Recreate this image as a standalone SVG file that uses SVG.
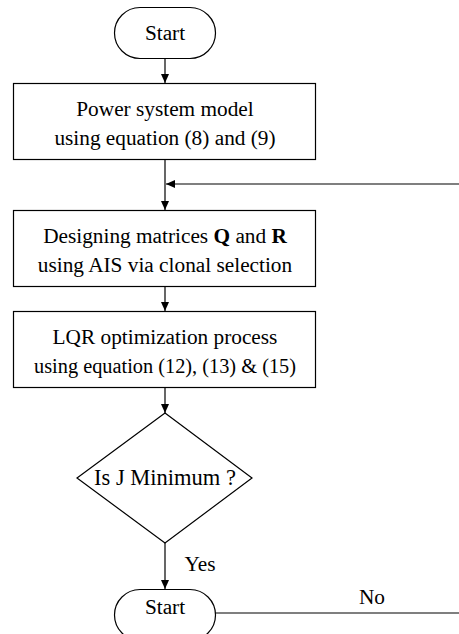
<svg xmlns="http://www.w3.org/2000/svg" width="459" height="634" viewBox="0 0 459 634">
<style>
.n{fill:#fff;stroke:#000;stroke-width:1.2}
.t{font-family:"Liberation Serif","Times New Roman",serif;font-size:21.3px;fill:#000;text-anchor:middle}
.c{fill:none;stroke:#000;stroke-width:1.2}
</style>
<defs>
<marker id="a" markerWidth="9" markerHeight="8" refX="9" refY="4" orient="auto" markerUnits="userSpaceOnUse">
<path d="M0,0 L9,4 L0,8 Z" fill="#000"/>
</marker>
</defs>
<rect width="459" height="634" fill="#fff"/>
<g id="connectors">
<line class="c" x1="165" y1="58" x2="165" y2="83" marker-end="url(#a)"/>
<line class="c" x1="165" y1="159" x2="165" y2="210" marker-end="url(#a)"/>
<line class="c" x1="459" y1="184" x2="166" y2="184" marker-end="url(#a)"/>
<line class="c" x1="165" y1="286" x2="165" y2="311" marker-end="url(#a)"/>
<line class="c" x1="165" y1="387" x2="165" y2="413" marker-end="url(#a)"/>
<line class="c" x1="165" y1="543" x2="165" y2="589" marker-end="url(#a)"/>
<line class="c" x1="215" y1="613" x2="459" y2="613"/>
<text class="t" x="200" y="571">Yes</text>
<text class="t" x="372" y="604">No</text>
</g>
<g id="start">
<rect class="n" x="114.5" y="7.5" width="101" height="51" rx="25.5"/>
<text class="t" x="165" y="40">Start</text>
</g>
<g id="model">
<rect class="n" x="13.5" y="83.5" width="302" height="76"/>
<text class="t" x="165" y="116">Power system model</text>
<text class="t" x="165" y="145">using equation (8) and (9)</text>
</g>
<g id="design">
<rect class="n" x="13.5" y="210.5" width="302" height="76"/>
<text class="t" x="165" y="243">Designing matrices <tspan font-weight="bold">Q</tspan> and <tspan font-weight="bold">R</tspan></text>
<text class="t" x="165" y="272">using AIS via clonal selection</text>
</g>
<g id="lqr">
<rect class="n" x="13.5" y="311.5" width="302" height="76"/>
<text class="t" x="165" y="344">LQR optimization process</text>
<text class="t" x="165" y="373" textLength="262" lengthAdjust="spacingAndGlyphs">using equation (12), (13) &amp; (15)</text>
</g>
<g id="decision">
<polygon class="n" points="165,413 252,478 165,543 77,478"/>
<text class="t" x="165" y="485" style="font-size:22.5px">Is J Minimum ?</text>
</g>
<g id="end">
<rect class="n" x="114.5" y="589.5" width="101" height="51" rx="25.5"/>
<text class="t" x="165" y="614">Start</text>
</g>
</svg>
